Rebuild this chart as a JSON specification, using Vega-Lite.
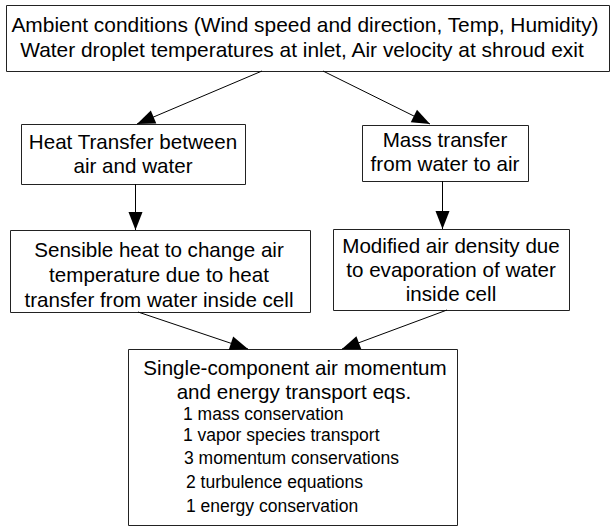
{
  "$schema": "https://vega.github.io/schema/vega-lite/v6.json",
  "width": 612,
  "height": 527,
  "autosize": {"type": "none"},
  "padding": 0,
  "background": "white",
  "config": {"view": {"stroke": null}},
  "datasets": {
    "boxes": [
      {"id": "b1", "x1": 6.5, "x2": 609.5, "y1": 5.5, "y2": 71.5},
      {"id": "b2", "x1": 21.5, "x2": 245.5, "y1": 124.5, "y2": 184.5},
      {"id": "b3", "x1": 362.5, "x2": 528.5, "y1": 125.5, "y2": 181.5},
      {"id": "b4", "x1": 10.5, "x2": 310.5, "y1": 230.5, "y2": 312.5},
      {"id": "b5", "x1": 333.5, "x2": 569.5, "y1": 229.5, "y2": 310.5},
      {"id": "b6", "x1": 128.5, "x2": 457.5, "y1": 349.5, "y2": 525.5}
    ],
    "arrows": [
      {"id": "a1", "x1": 262, "y1": 71, "x2": 137, "y2": 124},
      {"id": "a2", "x1": 323, "y1": 71, "x2": 430, "y2": 124},
      {"id": "a3", "x1": 135.5, "y1": 184, "x2": 135.5, "y2": 230},
      {"id": "a4", "x1": 442.5, "y1": 181, "x2": 442.5, "y2": 229},
      {"id": "a5", "x1": 138, "y1": 312, "x2": 248, "y2": 349},
      {"id": "a6", "x1": 447, "y1": 310, "x2": 342, "y2": 349}
    ],
    "labels": [
      {"kind": "top", "x": 305, "y": 32, "text": "Ambient conditions (Wind speed and direction, Temp, Humidity)"},
      {"kind": "top", "x": 302, "y": 57, "text": "Water droplet temperatures at inlet, Air velocity at shroud exit"},
      {"kind": "main", "x": 133, "y": 149, "text": "Heat Transfer between"},
      {"kind": "main", "x": 133, "y": 173, "text": "air and water"},
      {"kind": "main", "x": 445, "y": 147, "text": "Mass transfer"},
      {"kind": "main", "x": 445, "y": 171, "text": "from water to air"},
      {"kind": "main", "x": 159, "y": 257, "text": "Sensible heat to change air"},
      {"kind": "main", "x": 159, "y": 282, "text": "temperature due to heat"},
      {"kind": "main", "x": 159, "y": 307, "text": "transfer from water inside cell"},
      {"kind": "main", "x": 451, "y": 253, "text": "Modified air density due"},
      {"kind": "main", "x": 451, "y": 277, "text": "to evaporation of water"},
      {"kind": "main", "x": 451, "y": 301, "text": "inside cell"},
      {"kind": "main", "x": 295, "y": 375, "text": "Single-component air momentum"},
      {"kind": "main", "x": 294, "y": 399, "text": "and energy transport eqs."},
      {"kind": "list", "x": 183, "y": 420, "text": "1 mass conservation"},
      {"kind": "list", "x": 183, "y": 441, "text": "1 vapor species transport"},
      {"kind": "list", "x": 184, "y": 464, "text": "3 momentum conservations"},
      {"kind": "list", "x": 186, "y": 488, "text": "2 turbulence equations"},
      {"kind": "list", "x": 186, "y": 512, "text": "1 energy conservation"}
    ]
  },
  "layer": [
    {
      "data": {"name": "boxes"},
      "mark": {"type": "rect", "fill": "white", "stroke": "#222222", "strokeWidth": 1},
      "encoding": {
        "x": {"field": "x1", "type": "quantitative", "scale": {"domain": [0, 612], "range": [0, 612]}, "axis": null},
        "x2": {"field": "x2"},
        "y": {"field": "y1", "type": "quantitative", "scale": {"domain": [0, 527], "range": [0, 527]}, "axis": null},
        "y2": {"field": "y2"}
      }
    },
    {
      "data": {"name": "arrows"},
      "mark": {"type": "rule", "stroke": "black", "strokeWidth": 1},
      "encoding": {
        "x": {"field": "x1", "type": "quantitative", "scale": {"domain": [0, 612], "range": [0, 612]}, "axis": null},
        "x2": {"field": "x2"},
        "y": {"field": "y1", "type": "quantitative", "scale": {"domain": [0, 527], "range": [0, 527]}, "axis": null},
        "y2": {"field": "y2"}
      }
    },
    {
      "data": {"name": "arrows"},
      "transform": [
        {"calculate": "atan2(-(datum.x2 - datum.x1), datum.y2 - datum.y1) * 180 / PI", "as": "ang"}
      ],
      "mark": {
        "type": "point",
        "shape": "M0,0L-0.39,-1L0.39,-1Z",
        "filled": true,
        "fill": "black",
        "stroke": null,
        "opacity": 1,
        "size": 1296
      },
      "encoding": {
        "x": {"field": "x2", "type": "quantitative", "scale": {"domain": [0, 612], "range": [0, 612]}, "axis": null},
        "y": {"field": "y2", "type": "quantitative", "scale": {"domain": [0, 527], "range": [0, 527]}, "axis": null},
        "angle": {"field": "ang", "type": "quantitative", "scale": null}
      }
    },
    {
      "data": {"name": "labels"},
      "transform": [{"filter": "datum.kind === 'top'"}],
      "mark": {"type": "text", "font": "Liberation Sans", "fontSize": 20.9, "align": "center", "baseline": "alphabetic", "fill": "black"},
      "encoding": {
        "x": {"field": "x", "type": "quantitative", "scale": {"domain": [0, 612], "range": [0, 612]}, "axis": null},
        "y": {"field": "y", "type": "quantitative", "scale": {"domain": [0, 527], "range": [0, 527]}, "axis": null},
        "text": {"field": "text"}
      }
    },
    {
      "data": {"name": "labels"},
      "transform": [{"filter": "datum.kind === 'main'"}],
      "mark": {"type": "text", "font": "Liberation Sans", "fontSize": 20.6, "align": "center", "baseline": "alphabetic", "fill": "black"},
      "encoding": {
        "x": {"field": "x", "type": "quantitative", "scale": {"domain": [0, 612], "range": [0, 612]}, "axis": null},
        "y": {"field": "y", "type": "quantitative", "scale": {"domain": [0, 527], "range": [0, 527]}, "axis": null},
        "text": {"field": "text"}
      }
    },
    {
      "data": {"name": "labels"},
      "transform": [{"filter": "datum.kind === 'list'"}],
      "mark": {"type": "text", "font": "Liberation Sans", "fontSize": 17.5, "align": "left", "baseline": "alphabetic", "fill": "black"},
      "encoding": {
        "x": {"field": "x", "type": "quantitative", "scale": {"domain": [0, 612], "range": [0, 612]}, "axis": null},
        "y": {"field": "y", "type": "quantitative", "scale": {"domain": [0, 527], "range": [0, 527]}, "axis": null},
        "text": {"field": "text"}
      }
    }
  ]
}
